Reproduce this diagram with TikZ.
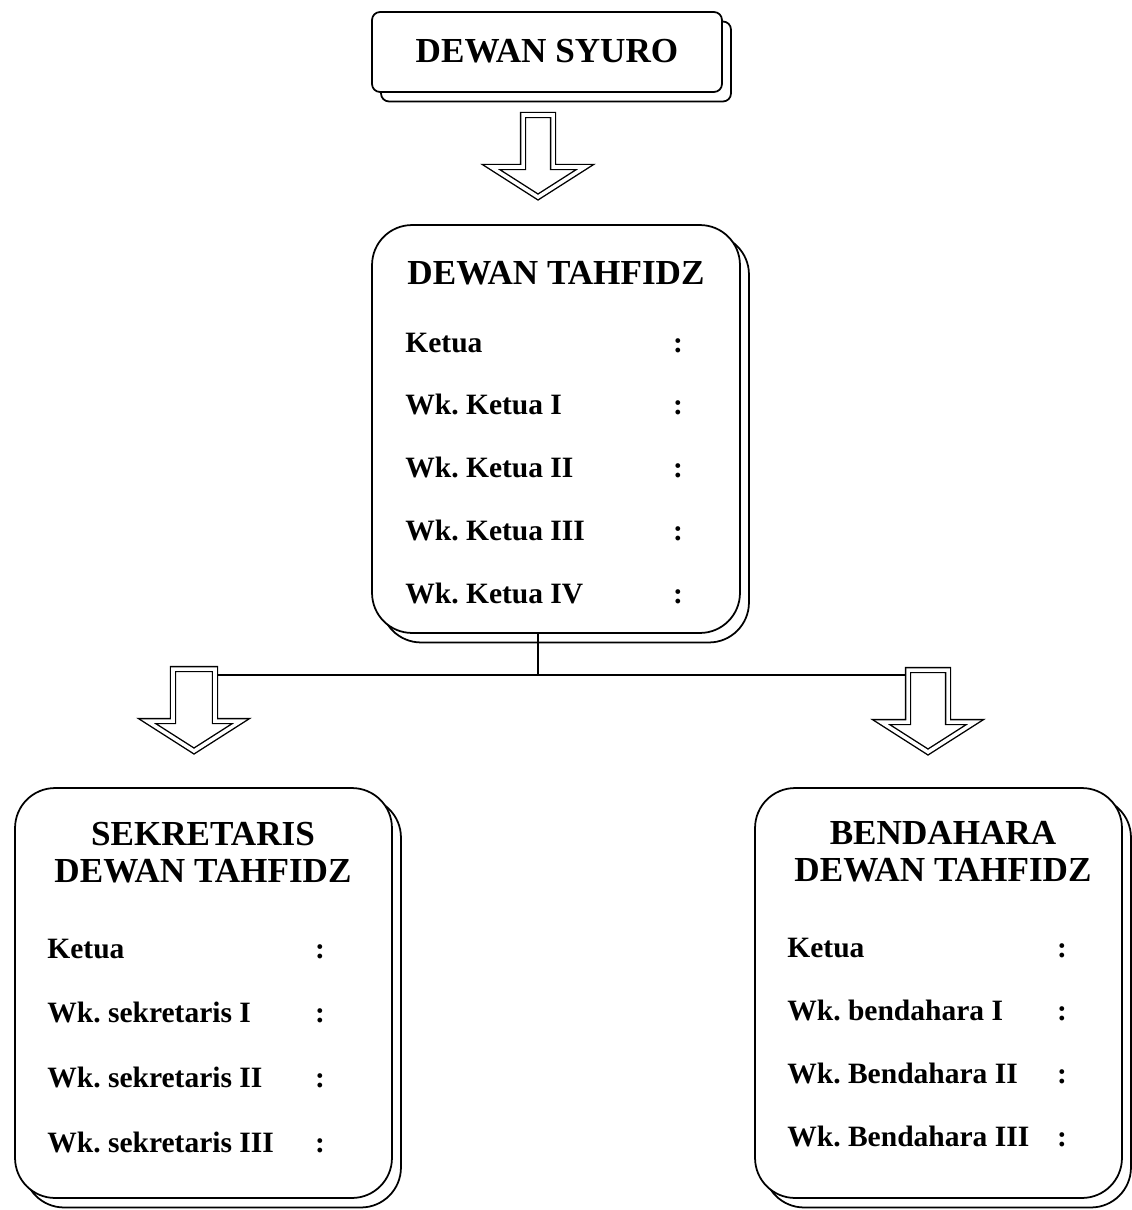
\documentclass[tikz,border=0pt]{standalone}
\usepackage{fontspec}
\setmainfont{Liberation Serif}
\usetikzlibrary{shadows}
\frenchspacing

\tikzset{
  kotak/.style={draw, fill=white, line width=1pt, rounded corners=0.8cm, inner sep=0pt,
    copy shadow={shadow xshift=0.18cm, shadow yshift=-0.19cm}},
  judul/.style={font=\fontsize{20}{21}\selectfont\bfseries, align=center},
  isi/.style={font=\fontsize{16.8}{20}\selectfont\bfseries, anchor=base west, inner sep=0pt},
  titik/.style={font=\fontsize{16.8}{20}\selectfont\bfseries, anchor=base, inner sep=0pt},
  panah/.style={draw, fill=white, line width=0.8pt, double=white, double distance=2pt, line join=miter}
}

% panah blok ke bawah: #1 titik atas tengah, #2 setengah lebar batang
\newcommand{\panahblok}[2]{%
  \draw[panah] (#1) ++(-#2,0) -- ++(2*#2,0) -- ++(0,52) -- ++(47-#2,0)
    -- ++(-47,30) -- ++(-47,-30) -- ++(47-#2,0) -- cycle;}

\begin{document}
\begin{tikzpicture}[x=0.02cm, y=-0.02cm]
  \useasboundingbox (0,0) rectangle (1132,1210);

  % kotak
  \node[kotak, rounded corners=0.16cm, minimum width=7cm, minimum height=1.6cm] (syuro) at (547,52) {};
  \node[kotak, minimum width=7.36cm, minimum height=8.16cm] (tahfidz) at (556,429) {};
  \node[kotak, minimum width=7.54cm, minimum height=8.2cm] (sekre) at (203.5,993) {};
  \node[kotak, minimum width=7.34cm, minimum height=8.2cm] (benda) at (938.5,993) {};

  % judul
  \node[judul] (tSyuro) at (547,51) {DEWAN SYURO};
  \node[judul] (tTahfidz) at (556,273) {DEWAN TAHFIDZ};
  \node[judul] (tSekre) at (203,853) {SEKRETARIS\\DEWAN TAHFIDZ};
  \node[judul] (tBenda) at (943,852) {BENDAHARA\\DEWAN TAHFIDZ};

  % isi kotak (y = garis dasar)
  \foreach \teks [count=\i] in {Ketua, Wk. Ketua I, Wk. Ketua II, Wk. Ketua III, Wk. Ketua IV} {
    \node[isi] (aT\i) at (405,{352+62.8*(\i-1)}) {\teks};
    \node[titik] (cT\i) at (678,{352+62.8*(\i-1)}) {:};
  }
  \foreach \teks [count=\i] in {Ketua, Wk. sekretaris I, Wk. sekretaris II, Wk. sekretaris III} {
    \node[isi] (aS\i) at (47,{958+64.7*(\i-1)}) {\teks};
    \node[titik] (cS\i) at (320,{958+64.7*(\i-1)}) {:};
  }
  \foreach \teks [count=\i] in {Ketua, Wk. bendahara I, Wk. Bendahara II, Wk. Bendahara III} {
    \node[isi] (aB\i) at (787,{957+63.3*(\i-1)}) {\teks};
    \node[titik] (cB\i) at (1062,{957+63.3*(\i-1)}) {:};
  }

  % garis dan panah
  \coordinate (cabang) at (538,675);
  \coordinate (kiri) at (194,675);
  \coordinate (kanan) at (928,675);
  \coordinate (pA) at (538,115);
  \coordinate (pKi) at (194,669);
  \coordinate (pKa) at (928,670);

  \draw[line width=1pt] (cabang |- tahfidz.south) -- (cabang);
  \draw[line width=1pt] (kiri) -- (kanan);
  \panahblok{pA}{15}
  \panahblok{pKi}{21}
  \panahblok{pKa}{20}
\end{tikzpicture}
\end{document}
